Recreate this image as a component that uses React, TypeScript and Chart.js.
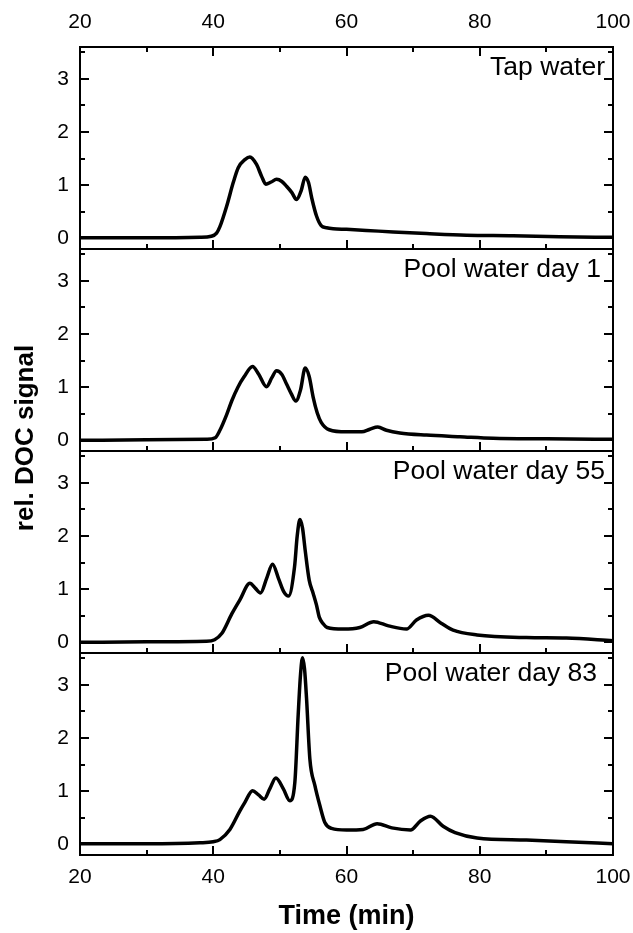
import React, { useEffect, useRef } from "react";
import { Chart, registerables } from "chart.js";

Chart.register(...registerables);

// ---------- data ----------
const X_TICKS = [20, 40, 60, 80, 100];
const Y_TICKS = [0, 1, 2, 3];
const PANEL_NAMES = ["Tap water", "Pool water day 1", "Pool water day 55", "Pool water day 83"];
const X_TITLE = "Time (min)";
const Y_TITLE = "rel. DOC signal";

const tapTime = [20, 30, 38, 39.7, 40.5, 41, 42, 43, 43.75, 44.75, 45.5, 46.5, 47.25, 47.9, 48.7, 49.5, 50.3, 51, 51.8, 52.5, 53.2, 53.8, 54.3, 54.8, 55.5, 56.2, 57, 58, 60, 63, 67, 72, 78, 85, 92, 100];
const tapSignal = [0.01, 0.01, 0.02, 0.04, 0.1, 0.22, 0.6, 1.05, 1.33, 1.48, 1.53, 1.39, 1.17, 1.02, 1.06, 1.11, 1.07, 0.98, 0.86, 0.73, 0.9, 1.15, 1.05, 0.75, 0.42, 0.24, 0.2, 0.18, 0.17, 0.15, 0.12, 0.09, 0.06, 0.05, 0.03, 0.02];

const day1Time = [20, 30, 39, 40.3, 41, 42, 42.8, 43.7, 44.6, 45.9, 46.8, 48, 48.8, 49.5, 50.3, 51, 51.7, 52.4, 53.1, 53.8, 54.4, 55, 55.6, 56.2, 57.4, 60, 62.3, 63.5, 64.7, 66, 68, 72, 77, 82, 90, 100];
const day1Signal = [0.0, 0.01, 0.02, 0.05, 0.19, 0.48, 0.75, 1.0, 1.19, 1.39, 1.25, 1.01, 1.18, 1.31, 1.24, 1.06, 0.88, 0.74, 0.95, 1.36, 1.2, 0.81, 0.52, 0.34, 0.2, 0.16, 0.16, 0.21, 0.25, 0.19, 0.14, 0.1, 0.07, 0.04, 0.03, 0.02];

const day55Time = [20, 30, 39, 40.2, 41.3, 42.8, 44, 45.5, 46.3, 47.1, 48, 48.9, 49.8, 50.6, 51.3, 52.2, 52.6, 53.0, 53.4, 53.8, 54.4, 55, 55.5, 55.9, 56.5, 57.1, 59.5, 62, 64.1, 66.3, 69, 70.5, 72.3, 74.2, 76, 79.6, 87, 93, 100];
const day55Signal = [0.0, 0.01, 0.02, 0.05, 0.17, 0.54, 0.8, 1.11, 1.02, 0.93, 1.2, 1.47, 1.2, 0.95, 0.87, 1.42, 2.0, 2.31, 2.15, 1.73, 1.17, 0.92, 0.7, 0.48, 0.35, 0.28, 0.25, 0.28, 0.39, 0.31, 0.25, 0.42, 0.51, 0.36, 0.23, 0.14, 0.09, 0.08, 0.03];

const day83Time = [20, 30, 38, 40, 41, 42.5, 44, 44.75, 45.9, 46.8, 47.65, 48.5, 49.4, 50.5, 51.5, 52.25, 52.75, 53.1, 53.4, 53.7, 54, 54.5, 55.25, 56, 56.75, 57.75, 60, 62.5, 64.6, 66.8, 69.6, 71.1, 72.6, 74.5, 76.3, 79.6, 87, 93, 100];
const day83Signal = [0.01, 0.01, 0.03, 0.05, 0.09, 0.28, 0.63, 0.79, 1.01, 0.93, 0.85, 1.05, 1.25, 1.05, 0.82, 1.17, 2.44, 3.2, 3.51, 3.3, 2.75, 1.61, 1.11, 0.73, 0.41, 0.3, 0.27, 0.28, 0.39, 0.31, 0.27, 0.44, 0.53, 0.34, 0.22, 0.12, 0.08, 0.05, 0.01];

const FONT = "'Liberation Sans', Arial, Helvetica, sans-serif";
const Y_IDS = ["y1", "y2", "y3", "y4"];
const LABEL_RIGHT = [605, 601, 605, 597];

export default function App() {
  const ref = useRef<HTMLCanvasElement>(null);

  useEffect(() => {
    const canvas = ref.current;
    if (!canvas) return;
    const series = [
      { t: tapTime, v: tapSignal },
      { t: day1Time, v: day1Signal },
      { t: day55Time, v: day55Signal },
      { t: day83Time, v: day83Signal },
    ];

    const datasets = series.map((s, i) => ({
      label: PANEL_NAMES[i],
      data: s.t.map((t, k) => ({ x: t, y: s.v[k] })),
      xAxisID: "x",
      yAxisID: Y_IDS[i],
      borderColor: "#000",
      backgroundColor: "#000",
      borderWidth: 3.5,
      pointRadius: 0,
      cubicInterpolationMode: "monotone" as const,
      fill: false,
      borderJoinStyle: "round" as const,
      borderCapStyle: "round" as const,
    }));

    const tickFont = { family: FONT, size: 21 };

    // stacked left axes: the last one defined is placed on top, so define in reverse
    const yScales: any = {};
    [...Y_IDS].reverse().forEach((id) => {
      yScales[id] = {
        type: "linear",
        position: "left",
        stack: "panels",
        stackWeight: 1,
        offset: false,
        min: -0.2,
        max: 3.6,
        grid: { display: false, drawTicks: false },
        border: { display: false },
        ticks: { font: tickFont, color: "#000", padding: 11 },
        afterBuildTicks: (s: any) => {
          s.ticks = Y_TICKS.map((v) => ({ value: v }));
        },
        afterFit: (s: any) => {
          s.width = 80;
          s.paddingTop = 0;
          s.paddingBottom = 0;
        },
      };
    });

    const framePlugin = {
      id: "frame",
      afterDraw(chart: any) {
        const ctx = chart.ctx as CanvasRenderingContext2D;
        const xs = chart.scales.x;
        const left = chart.chartArea.left;
        const right = chart.chartArea.right;
        ctx.save();
        ctx.strokeStyle = "#000";
        ctx.lineWidth = 2;
        ctx.lineCap = "butt";
        const tops = Y_IDS.map((id) => chart.scales[id].top);
        const minTop = Math.min(...tops);
        Y_IDS.forEach((id, i) => {
          const ys = chart.scales[id];
          const top = ys.top;
          const bottom = ys.bottom;
          ctx.strokeRect(left, top, right - left, bottom - top);
          ctx.beginPath();
          for (let t = 20; t <= 100; t += 10) {
            const px = Math.round(xs.getPixelForValue(t));
            const len = (t - 20) % 20 === 0 ? 9 : 5;
            ctx.moveTo(px, bottom);
            ctx.lineTo(px, bottom - len);
            if (top === minTop) {
              ctx.moveTo(px, top);
              ctx.lineTo(px, top + len);
            }
          }
          for (let v = 0; v <= 3.5; v += 0.5) {
            const py = Math.round(ys.getPixelForValue(v));
            const len = Number.isInteger(v) ? 9 : 5;
            ctx.moveTo(left, py);
            ctx.lineTo(left + len, py);
            ctx.moveTo(right, py);
            ctx.lineTo(right - len, py);
          }
          ctx.stroke();

          ctx.fillStyle = "#000";
          ctx.font = `26.5px ${FONT}`;
          ctx.textAlign = "right";
          ctx.textBaseline = "alphabetic";
          ctx.fillText(chart.data.datasets[i].label, LABEL_RIGHT[i], top + 28);
        });

        ctx.save();
        ctx.translate(33, 438);
        ctx.rotate(-Math.PI / 2);
        ctx.font = `bold 26px ${FONT}`;
        ctx.textAlign = "center";
        ctx.textBaseline = "alphabetic";
        ctx.fillStyle = "#000";
        ctx.fillText(Y_TITLE, 0, 0);
        ctx.restore();
        ctx.restore();
      },
    };

    const chart = new Chart(canvas, {
      type: "line",
      data: { datasets },
      options: {
        animation: false,
        responsive: false,
        devicePixelRatio: 1,
        layout: { padding: { left: 0, right: 20, top: 0, bottom: 0 } },
        plugins: { legend: { display: false }, tooltip: { enabled: false }, title: { display: false } },
        scales: {
          x: {
            type: "linear",
            position: "bottom",
            min: 20,
            max: 100,
            grid: { display: false, drawTicks: false },
            border: { display: false },
            ticks: { stepSize: 20, font: tickFont, color: "#000", padding: 10, maxRotation: 0, autoSkip: false },
            afterBuildTicks: (s: any) => {
              s.ticks = X_TICKS.map((v) => ({ value: v }));
            },
            title: {
              display: true,
              text: X_TITLE,
              font: { family: FONT, size: 27, weight: "bold" },
              color: "#000",
              padding: { top: 0, bottom: 0 },
            },
            afterFit: (s: any) => {
              s.height = 78;
              s.paddingLeft = 0;
              s.paddingRight = 0;
            },
          },
          xTop: {
            type: "linear",
            position: "top",
            min: 20,
            max: 100,
            grid: { display: false, drawTicks: false },
            border: { display: false },
            ticks: { stepSize: 20, font: tickFont, color: "#000", padding: 12, maxRotation: 0, autoSkip: false },
            afterBuildTicks: (s: any) => {
              s.ticks = X_TICKS.map((v) => ({ value: v }));
            },
            afterFit: (s: any) => {
              s.height = 47;
              s.paddingLeft = 0;
              s.paddingRight = 0;
            },
          },
          ...yScales,
        },
      } as any,
      plugins: [framePlugin],
    });

    return () => chart.destroy();
  }, []);

  return (
    <div style={{ position: "fixed", left: 0, top: 0, width: 633, height: 933, background: "#fff" }}>
      <canvas ref={ref} width={633} height={933} style={{ display: "block", width: 633, height: 933 }} />
    </div>
  );
}
